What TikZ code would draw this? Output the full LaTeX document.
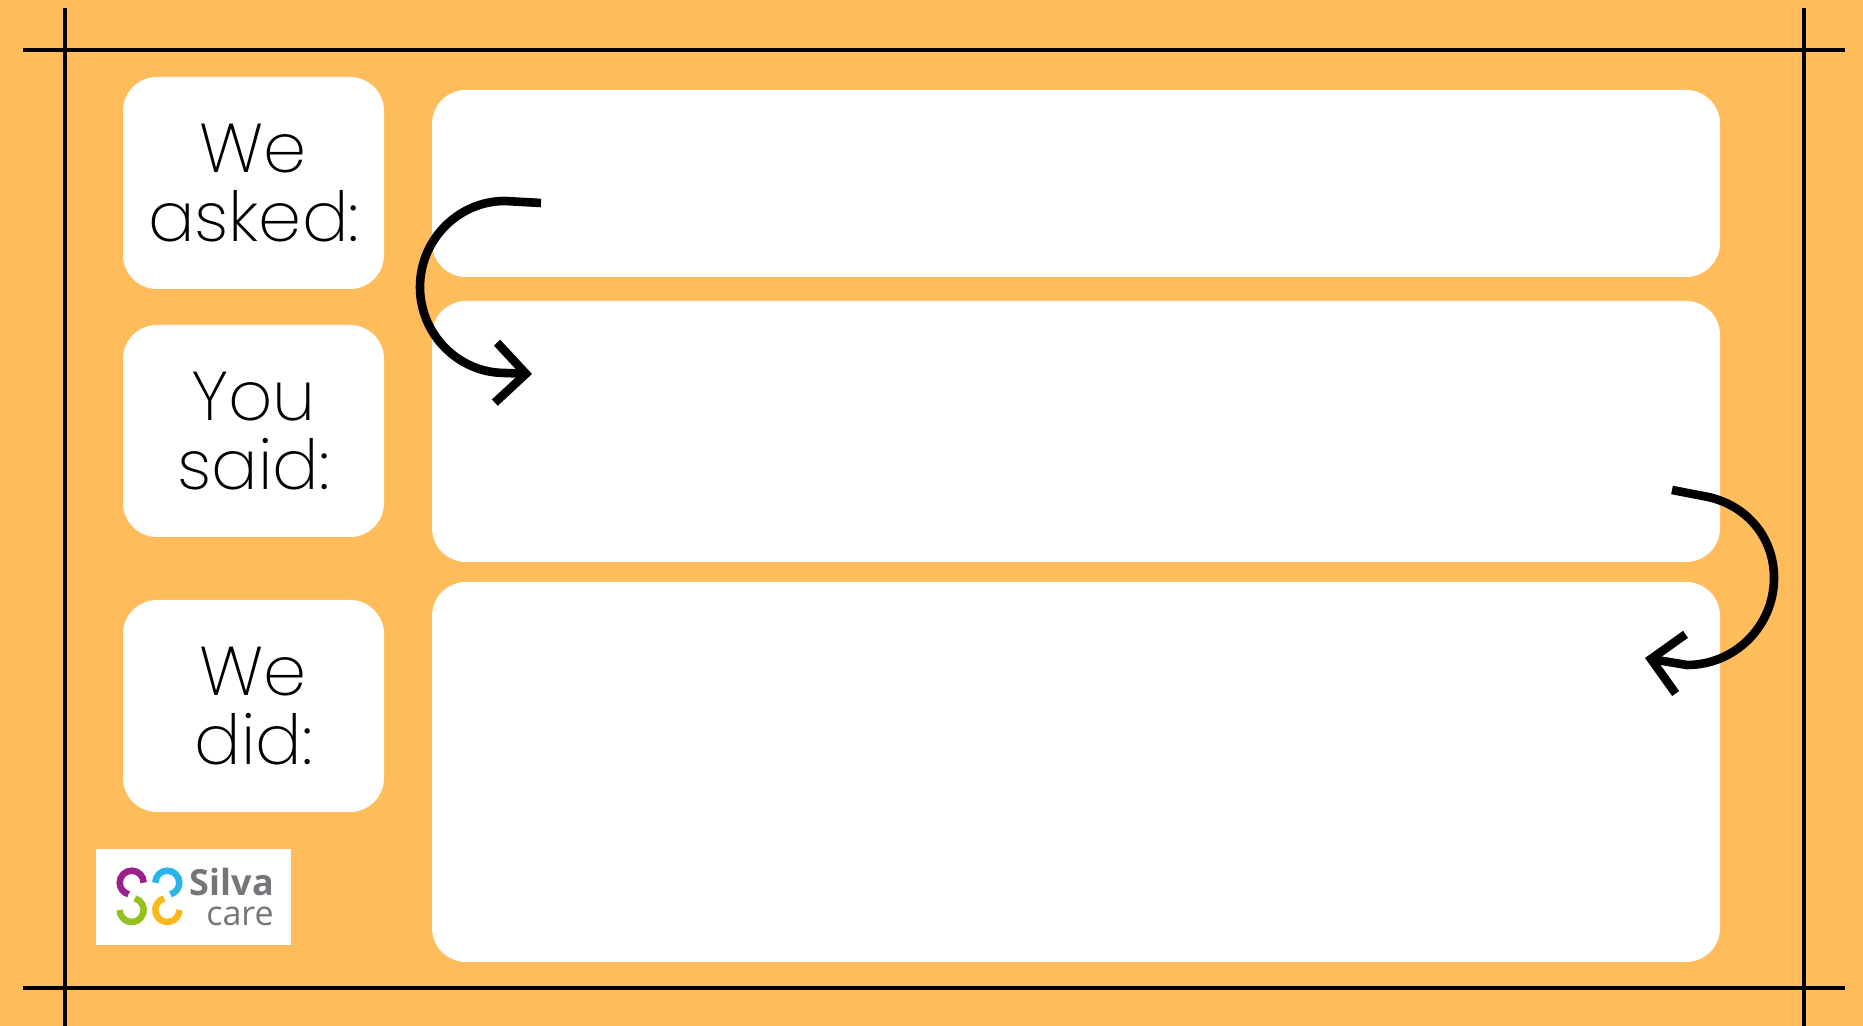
\documentclass[tikz,border=0pt]{standalone}
\usepackage{fontspec}
\setmainfont{Poppins}[UprightFont=* ExtraLight]
\newfontfamily\logofont{Open Sans}
\usetikzlibrary{arrows.meta}
\definecolor{pageorange}{HTML}{FFBC5A}
\definecolor{logogrey}{HTML}{76767A}

\begin{document}
\begin{tikzpicture}[
  x=0.5pt, y=0.5pt,
  labelbox/.style={rectangle, fill=white, rounded corners=17pt, inner sep=0pt, align=center, minimum width=130.5pt, minimum height=106pt, font=\fontsize{34.5}{34.5}\selectfont},
  answerbox/.style={rectangle, fill=white, rounded corners=17pt, inner sep=0pt, minimum width=644pt},
  frameline/.style={black, line width=2.2pt},
  turnarrow/.style={line width=4.3pt, -{Straight Barb[length=15pt, width=30pt, line width=4.3pt]}},
  ring/.style={line width=3.25pt},
]
\useasboundingbox[fill=pageorange] (0,0) rectangle (1863,1026);

% === ANSWER PANELS ===
\node[answerbox, minimum height=93.5pt] (asked) at (1076,842.5) {};
\node[answerbox, minimum height=130.5pt] (said) at (1076,594.5) {};
\node[answerbox, minimum height=190pt] (did) at (1076,254) {};

% === LEFT LABELS ===
\node[labelbox] (asklabel) at (253.5,843) {We\\asked:};
\node[labelbox] (saidlabel) at (253.5,595) {You\\said:};
\node[labelbox] (didlabel) at (253.5,320) {We\\did:};

% === FRAME LINES ===
\coordinate (topleft) at (23,976);
\coordinate (topright) at (1845,976);
\coordinate (botleft) at (23,38);
\coordinate (botright) at (1845,38);
\coordinate (leftup) at (65,1018);
\coordinate (leftdown) at (65,0);
\coordinate (rightup) at (1804,1018);
\coordinate (rightdown) at (1804,0);
\draw[frameline] (topleft) -- (topright);
\draw[frameline] (botleft) -- (botright);
\draw[frameline] (leftup) -- (leftdown);
\draw[frameline] (rightup) -- (rightdown);

% === ARROWS ===
\coordinate (askstart) at (541,823);
\coordinate (asktip) at (532,652);
\coordinate (saidstart) at (1672,536);
\coordinate (saidtip) at (1645,368);
\draw[turnarrow] (askstart) -- (505,825) .. controls (458,825) and (420,786) .. (420,739) .. controls (420,692) and (458,653) .. (505,653) -- (asktip);
\draw[turnarrow] (saidstart) -- (1703,530) .. controls (1745,523) and (1774,490) .. (1774,448) .. controls (1774,400) and (1735,361) .. (1687,361) -- (saidtip);

% === LOGO ===
\node[fill=white, minimum width=97.5pt, minimum height=48pt, inner sep=0pt] (logobox) at (193.5,129) {};
\foreach \cx/\cy/\from/\to/\col in {131.7/143.3/0/255/{rgb,255:red,155;green,31;blue,138}, 167.3/143.3/180/-75/{rgb,255:red,41;green,181;blue,232}, 131.7/116/75/-180/{rgb,255:red,149;green,193;blue,31}, 167.3/116/105/360/{rgb,255:red,251;green,185;blue,25}}
  \draw[ring, color=\col] (\cx,\cy) ++(\from:6pt) arc[start angle=\from, end angle=\to, radius=6pt];
\node[inner sep=0pt, text=logogrey, font=\logofont\bfseries\fontsize{18}{18}\selectfont] (silva) at (232,144) {Silva};
\node[inner sep=0pt, text=logogrey, font=\logofont\fontsize{17}{17}\selectfont] (care) at (240,110) {care};
\end{tikzpicture}
\end{document}
